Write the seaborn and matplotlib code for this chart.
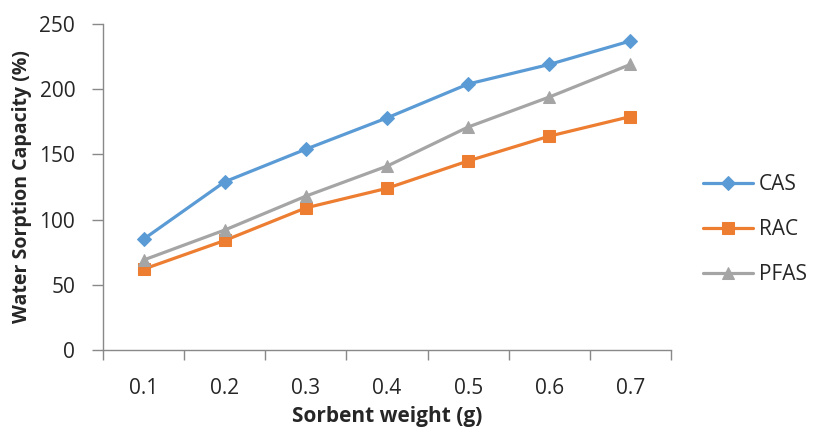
import numpy as np
import pandas as pd
import matplotlib.pyplot as plt
import seaborn as sns

weights = ["0.1", "0.2", "0.3", "0.4", "0.5", "0.6", "0.7"]
cas = [85, 129, 154, 178, 204, 219, 237]
rac = [62, 84, 109, 124, 145, 164, 179]
pfas = [69, 92, 118, 141, 171, 194, 219]

series = {"CAS": cas, "RAC": rac, "PFAS": pfas}
colors = {"CAS": "#5B9BD5", "RAC": "#ED7D31", "PFAS": "#A5A5A5"}
markers = {"CAS": "D", "RAC": "s", "PFAS": "^"}
msizes = {"CAS": 7, "RAC": 9, "PFAS": 9}

sns.set_style("white")
plt.rcParams["font.family"] = ["Open Sans", "DejaVu Sans"]

fig = plt.figure(figsize=(8.15, 4.32), dpi=100)
ax = fig.add_axes([0.1264, 0.1898, 0.6969, 0.7546])

pos = np.arange(len(weights))
for name, vals in series.items():
    df = pd.DataFrame({"x": pos, "y": vals})
    sns.lineplot(data=df, x="x", y="y", ax=ax, color=colors[name], marker=markers[name],
                 markersize=msizes[name], markeredgecolor=colors[name], linewidth=2.3, label=name)

ax.set_xlim(-0.5, len(weights) - 0.5)
ax.set_ylim(0, 250)
ax.set_yticks(range(0, 251, 50))
ax.set_xticks(pos)
ax.set_xticklabels(weights)
ax.set_xticks(np.arange(-0.5, len(weights), 1), minor=True)
ax.tick_params(axis="x", which="major", length=0, pad=20, labelsize=15)
ax.tick_params(axis="x", which="minor", length=7, width=1, color="#898989", direction="out", bottom=True)
ax.tick_params(axis="y", length=8, width=1, color="#898989", direction="out", left=True, labelsize=15, pad=12)

for s in ["top", "right"]:
    ax.spines[s].set_visible(False)
for s in ["left", "bottom"]:
    ax.spines[s].set_color("#898989")
    ax.spines[s].set_linewidth(1)

ax.set_xlabel("Sorbent weight (g)", fontsize=15, fontweight="bold", labelpad=5)
ax.set_ylabel("Water Sorption Capacity (%)", fontsize=14, fontweight="bold", labelpad=5)

ax.legend(loc="center left", bbox_to_anchor=(0.862, 0.468), bbox_transform=fig.transFigure,
          frameon=False, fontsize=15, handlelength=2.4, labelspacing=1.15, handletextpad=0.3,
          borderaxespad=0, borderpad=0)

fig.savefig("out.png", dpi=100)
